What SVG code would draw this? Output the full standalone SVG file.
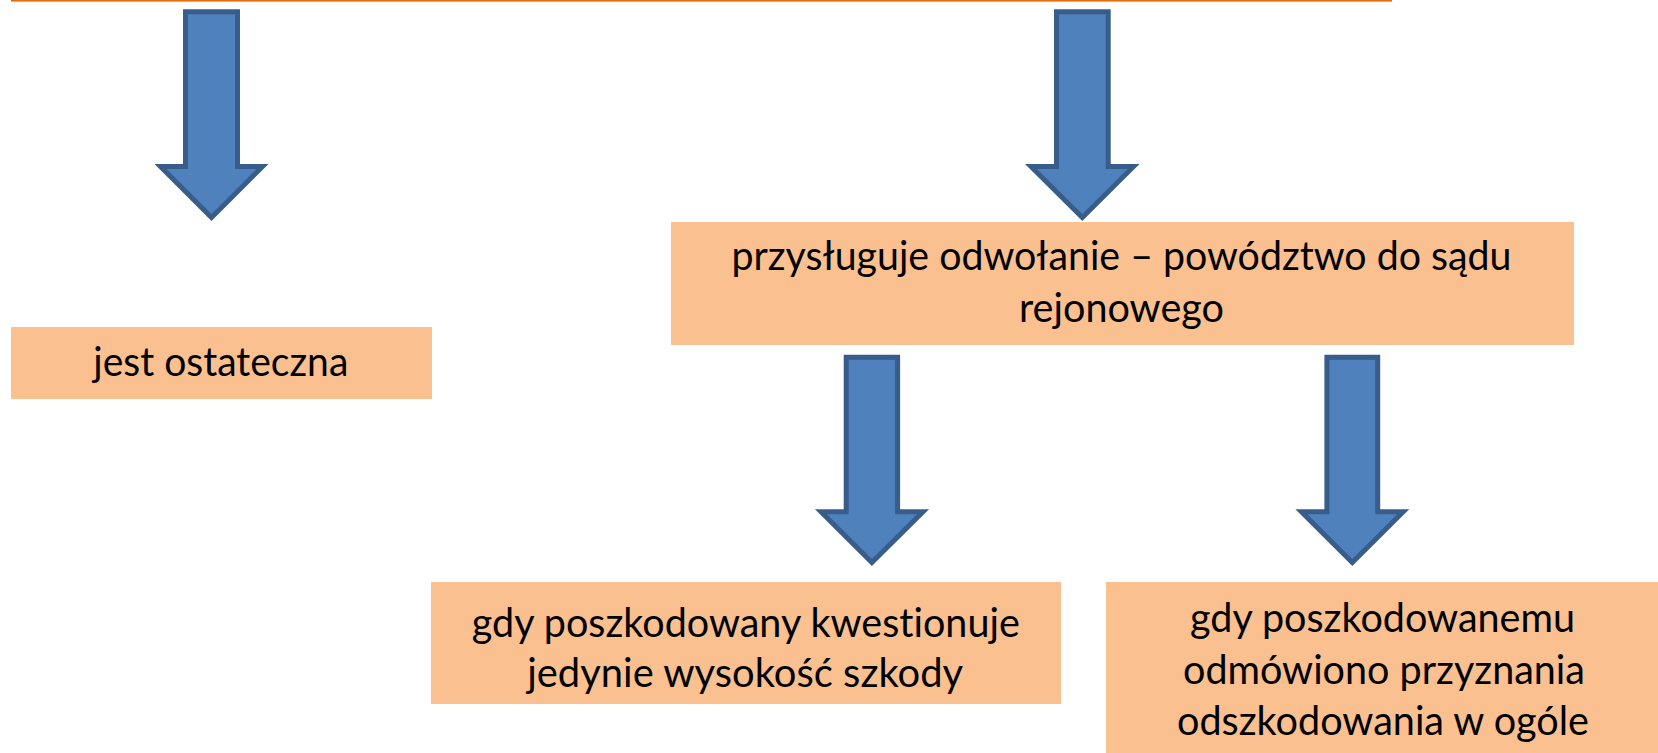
<svg xmlns="http://www.w3.org/2000/svg" width="1658" height="753" viewBox="0 0 1658 753">
  <style>
    .box { fill: #FAC090; }
    .lbl { font-family: Lato, "Noto Sans", "Liberation Sans", sans-serif; font-size: 41px; fill: #000000; text-anchor: middle; font-variant-ligatures: none; }
    .arrow { fill: #4F81BD; stroke: #385D8A; stroke-width: 5; stroke-linejoin: miter; stroke-miterlimit: 10; }
  </style>
  <rect x="11" y="0" width="1381" height="1.6" fill="#E46C0A"/>
  <g id="connectors">
    <polygon class="arrow" points="185.5,11.8 237.5,11.8 237.5,166.5 262.5,166.5 211.5,217.5 160.5,166.5 185.5,166.5"/>
    <polygon class="arrow" points="1056.5,11.8 1108.2,11.8 1108.2,166.5 1133.5,166.5 1082.3,217.5 1031,166.5 1056.5,166.5"/>
    <polygon class="arrow" points="846.2,357.2 897.6,357.2 897.6,511.8 923,511.8 871.9,562.5 821,511.8 846.2,511.8"/>
    <polygon class="arrow" points="1326.9,357.2 1377.7,357.2 1377.7,511.8 1403.2,511.8 1352.3,562.5 1301.4,511.8 1326.9,511.8"/>
  </g>
  <g id="node-final">
    <rect class="box" x="11" y="327" width="421" height="72"/>
    <text class="lbl" x="220.8" y="376" textLength="255" lengthAdjust="spacingAndGlyphs">jest ostateczna</text>
  </g>
  <g id="node-appeal">
    <rect class="box" x="671" y="222" width="903" height="123"/>
    <text class="lbl" x="1121.5" y="270" textLength="780" lengthAdjust="spacingAndGlyphs">przysługuje odwołanie – powództwo do sądu</text>
    <text class="lbl" x="1121.5" y="321.7" textLength="205" lengthAdjust="spacingAndGlyphs">rejonowego</text>
  </g>
  <g id="node-amount">
    <rect class="box" x="431" y="582" width="630" height="122"/>
    <text class="lbl" x="745.8" y="636.5" textLength="548" lengthAdjust="spacingAndGlyphs">gdy poszkodowany kwestionuje</text>
    <text class="lbl" x="745.2" y="686.5" textLength="436" lengthAdjust="spacingAndGlyphs">jedynie wysokość szkody</text>
  </g>
  <g id="node-refused">
    <rect class="box" x="1106" y="582" width="552" height="171"/>
    <text class="lbl" x="1382.5" y="632" textLength="385" lengthAdjust="spacingAndGlyphs">gdy poszkodowanemu</text>
    <text class="lbl" x="1384" y="683.5" textLength="402" lengthAdjust="spacingAndGlyphs">odmówiono przyznania</text>
    <text class="lbl" x="1383" y="735" textLength="412" lengthAdjust="spacingAndGlyphs">odszkodowania w ogóle</text>
  </g>
</svg>
